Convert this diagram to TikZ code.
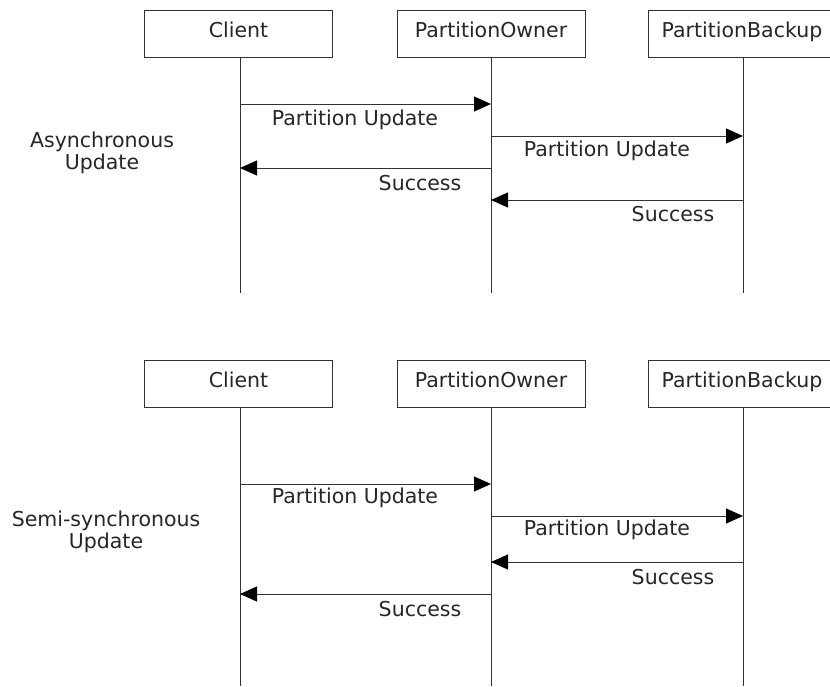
\documentclass[tikz,border=0pt]{standalone}
\usepackage{fontspec}
\setmainfont{DejaVu Sans}
\usetikzlibrary{arrows.meta}
\begin{document}
\begin{tikzpicture}[x=1pt,y=-1pt,
  every node/.style={font=\fontsize{20.5}{22}\selectfont, inner sep=0pt, text=black!85},
  actor/.style={draw=black!80, line width=1pt, minimum width=188pt, minimum height=47pt, text height=12pt, text depth=4pt},
  life/.style={draw=black!80, line width=1pt},
  msg/.style={draw=black!80, line width=1pt, -{Triangle[length=17pt,width=15pt,color=black]}},
  lbl/.style={anchor=center}]
\useasboundingbox (0,0) rectangle (830,686);
% ---------- top: asynchronous ----------
\node[actor] (c1) at (238.5,33.5) {Client};
\node[actor] (o1) at (491,33.5) {PartitionOwner};
\node[actor] (b1) at (742,33.5) {PartitionBackup};
\coordinate (c1e) at (240,293);
\coordinate (o1e) at (491,293);
\coordinate (b1e) at (743,293);
\draw[life] (c1.south -| c1e) -- (c1e);
\draw[life] (o1.south -| o1e) -- (o1e);
\draw[life] (b1.south -| b1e) -- (b1e);
\coordinate (a1s) at (240,104); \coordinate (a1e) at (491,104);
\coordinate (a2s) at (491,136); \coordinate (a2e) at (743,136);
\coordinate (a3s) at (491,168); \coordinate (a3e) at (240,168);
\coordinate (a4s) at (743,200); \coordinate (a4e) at (491,200);
\draw[msg] (a1s) -- (a1e);
\draw[msg] (a2s) -- (a2e);
\draw[msg] (a3s) -- (a3e);
\draw[msg] (a4s) -- (a4e);
\node[lbl] (l1) at (355,120) {Partition Update};
\node[lbl] (l2) at (607,151) {Partition Update};
\node[lbl] (l3) at (420,183) {Success};
\node[lbl] (l4) at (673,214) {Success};
\node[align=center] (t1) at (102,153) {Asynchronous\\Update};
% ---------- bottom: semi-synchronous ----------
\node[actor] (c2) at (238.5,383.5) {Client};
\node[actor] (o2) at (491,383.5) {PartitionOwner};
\node[actor] (b2) at (742,383.5) {PartitionBackup};
\coordinate (c2e) at (240,686);
\coordinate (o2e) at (491,686);
\coordinate (b2e) at (743,686);
\draw[life] (c2.south -| c2e) -- (c2e);
\draw[life] (o2.south -| o2e) -- (o2e);
\draw[life] (b2.south -| b2e) -- (b2e);
\coordinate (s1s) at (240,484); \coordinate (s1e) at (491,484);
\coordinate (s2s) at (491,516); \coordinate (s2e) at (743,516);
\coordinate (s3s) at (743,562); \coordinate (s3e) at (491,562);
\coordinate (s4s) at (491,594); \coordinate (s4e) at (240,594);
\draw[msg] (s1s) -- (s1e);
\draw[msg] (s2s) -- (s2e);
\draw[msg] (s3s) -- (s3e);
\draw[msg] (s4s) -- (s4e);
\node[lbl] (m1) at (355,498) {Partition Update};
\node[lbl] (m2) at (607,530) {Partition Update};
\node[lbl] (m3) at (673,577) {Success};
\node[lbl] (m4) at (420,609) {Success};
\node[align=center] (t2) at (106,532) {Semi-synchronous\\Update};
\end{tikzpicture}
\end{document}
